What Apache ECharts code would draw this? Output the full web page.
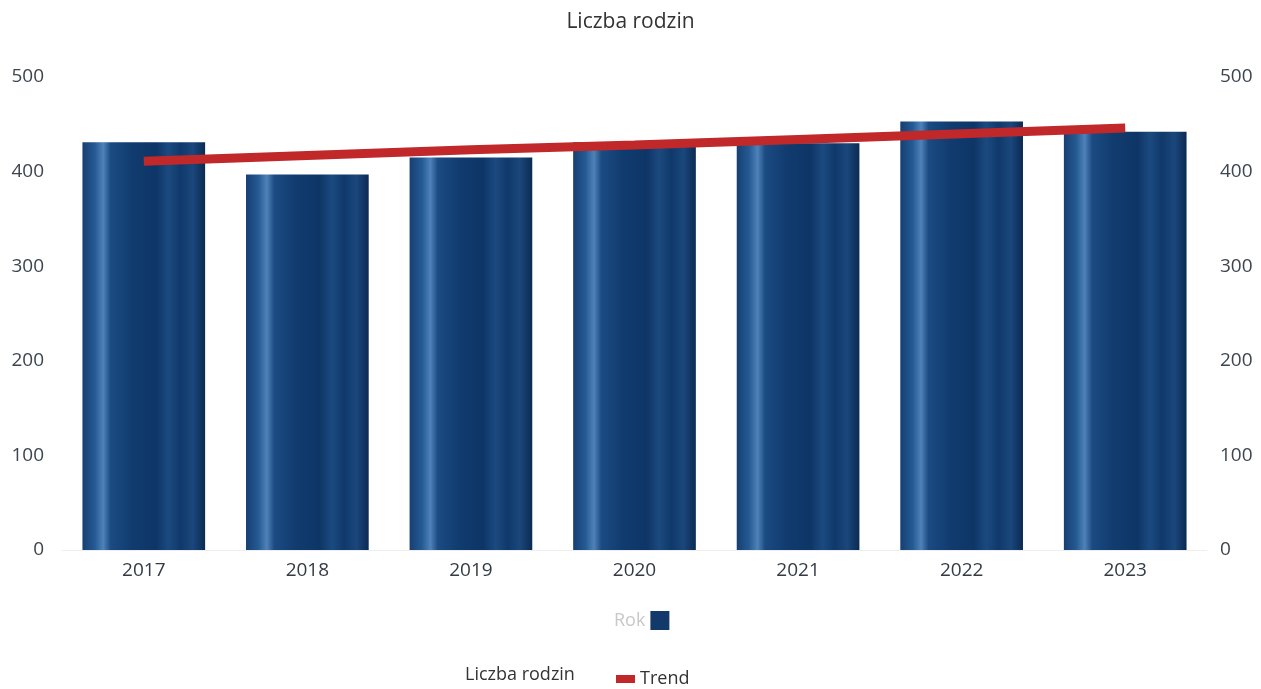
<!DOCTYPE html>
<html><head><meta charset="utf-8">
<script src="https://cdn.jsdelivr.net/npm/echarts@6/dist/echarts.min.js"></script>
<style>html,body{margin:0;padding:0;background:#fff}#c{width:1261px;height:689px}</style>
</head><body><div id="c"></div>
<script>
const years = ['2017','2018','2019','2020','2021','2022','2023'];
const families = [431, 397, 415, 431, 430, 453, 442];
const trend = [411, 417, 423, 428, 434, 440, 446];
const yTicks = [0, 100, 200, 300, 400, 500];

const barColor = new echarts.graphic.LinearGradient(0, 0, 1, 0, [
  {offset: 0, color: '#173f72'},
  {offset: 0.1, color: '#245a93'},
  {offset: 0.17, color: '#4f82b8'},
  {offset: 0.23, color: '#1b4b82'},
  {offset: 0.4, color: '#113c70'},
  {offset: 0.6, color: '#0e3566'},
  {offset: 0.7, color: '#1b4a80'},
  {offset: 0.8, color: '#10396b'},
  {offset: 0.9, color: '#1a477c'},
  {offset: 1, color: '#0b2a52'}
]);

const chart = echarts.init(document.getElementById('c'));
const font = '"Open Sans", "Noto Sans", sans-serif';
chart.setOption({
  animation: false,
  textStyle: {fontFamily: font},
  title: {text: 'Liczba rodzin', left: 'center', top: 7,
    textStyle: {fontFamily: font, fontSize: 21, fontWeight: 'normal', color: '#333'}},
  grid: {left: 62, right: 54, top: 77, bottom: 139},
  legend: [
    {data: [{name: 'Liczba rodzin', icon: 'rect', itemStyle: {color: '#13386a'}}], formatter: () => 'Rok', align: 'right',
     left: 609, top: 606, itemWidth: 19, itemHeight: 19, selectedMode: false,
     textStyle: {color: '#c8c8c8', fontSize: 18, fontFamily: font}},
    {data: [{name: 'Trend', icon: 'rect'}], left: 611, top: 665, itemWidth: 19, itemHeight: 8,
     itemGap: 5, selectedMode: false,
     textStyle: {color: '#333', fontSize: 18, fontFamily: font}}
  ],
  graphic: [{type: 'text', left: 465, top: 666,
    style: {text: 'Liczba rodzin', fill: '#333', font: '18px ' + font}}],
  xAxis: {type: 'category', data: years,
    axisLine: {lineStyle: {color: '#eeeeee'}}, axisTick: {show: false},
    axisLabel: {color: '#333b45', fontSize: 19, margin: 11, fontFamily: font}},
  yAxis: [
    {type: 'value', min: 0, max: 500, interval: 100, splitLine: {show: false},
     axisLabel: {color: '#3d4650', fontSize: 19, margin: 18, fontFamily: font}},
    {type: 'value', min: 0, max: 500, interval: 100, splitLine: {show: false}, position: 'right',
     axisLabel: {color: '#3d4650', fontSize: 19, margin: 13, fontFamily: font}}
  ],
  series: [
    {name: 'Liczba rodzin', type: 'bar', data: families, barWidth: '75%',
     itemStyle: {color: barColor}},
    {name: 'Trend', type: 'line', data: trend, symbol: 'none', z: 5,
     lineStyle: {color: '#c0282a', width: 9}, itemStyle: {color: '#c0282a'}}
  ]
});
</script></body></html>
